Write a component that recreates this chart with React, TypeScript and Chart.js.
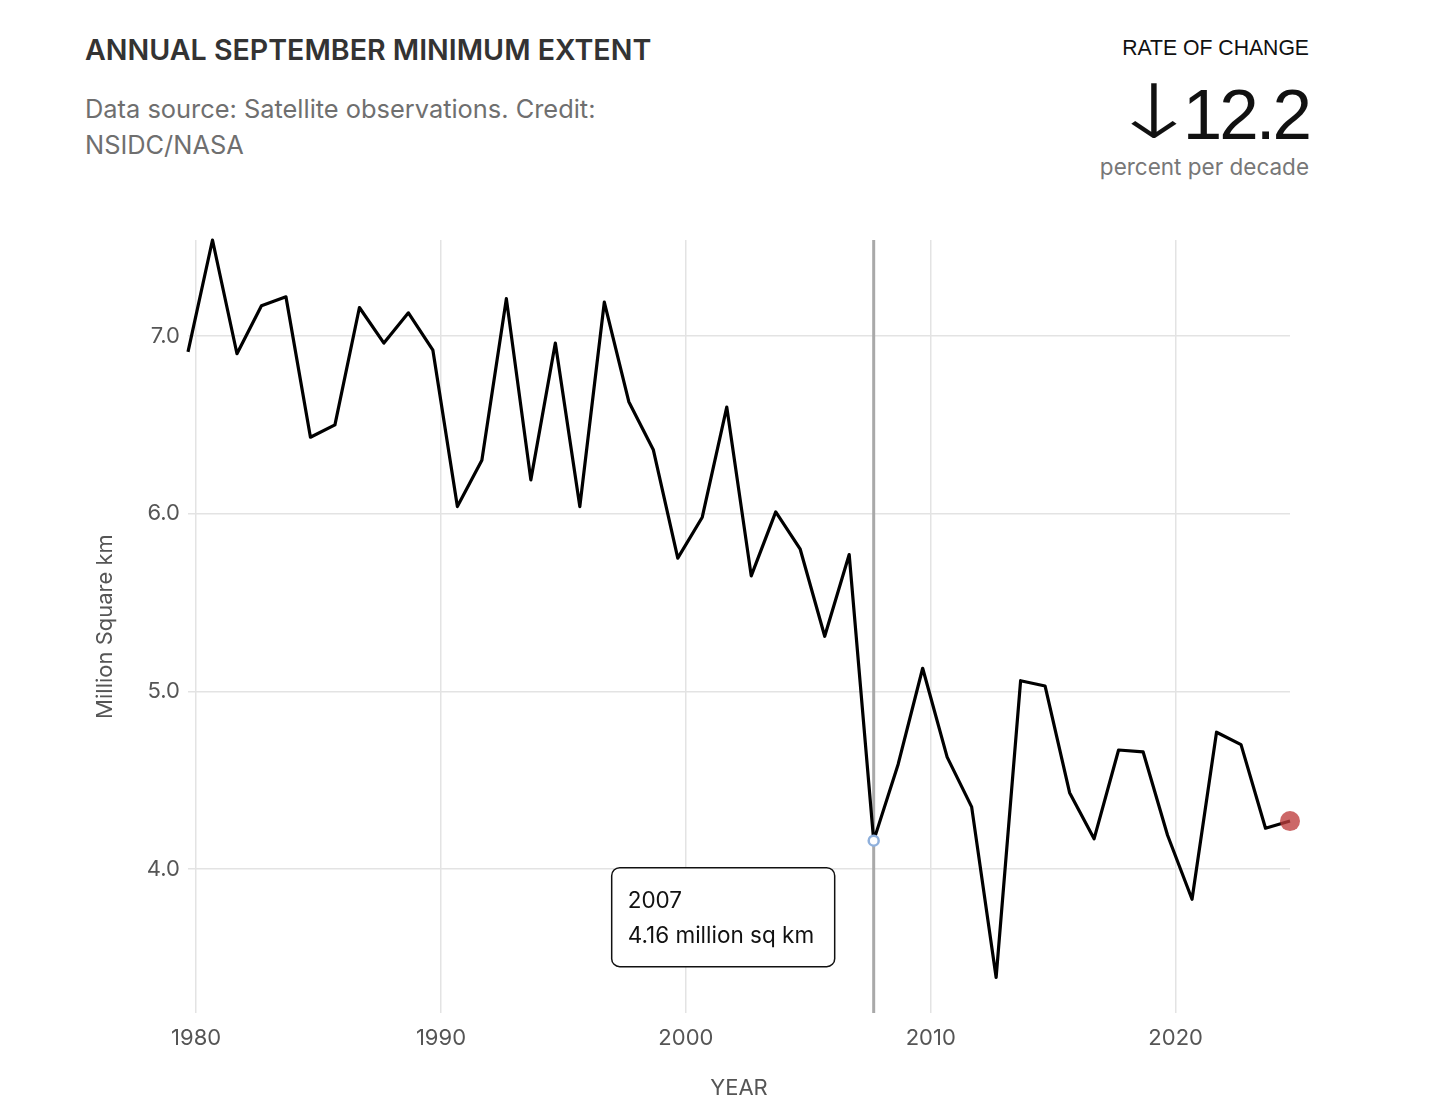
import React, { useEffect, useRef } from "react";
import { Chart, registerables } from "chart.js";

Chart.register(...registerables);

// ---- Data ----
const years: number[] = [
  1979, 1980, 1981, 1982, 1983, 1984, 1985, 1986, 1987, 1988,
  1989, 1990, 1991, 1992, 1993, 1994, 1995, 1996, 1997, 1998,
  1999, 2000, 2001, 2002, 2003, 2004, 2005, 2006, 2007, 2008,
  2009, 2010, 2011, 2012, 2013, 2014, 2015, 2016, 2017, 2018,
  2019, 2020, 2021, 2022, 2023, 2024,
];
const extent: number[] = [
  6.91, 7.54, 6.90, 7.17, 7.22, 6.43, 6.50, 7.16, 6.96, 7.13,
  6.92, 6.04, 6.30, 7.21, 6.19, 6.96, 6.04, 7.19, 6.63, 6.36,
  5.75, 5.98, 6.60, 5.65, 6.01, 5.80, 5.31, 5.77, 4.16, 4.59,
  5.13, 4.63, 4.35, 3.39, 5.06, 5.03, 4.43, 4.17, 4.67, 4.66,
  4.19, 3.83, 4.77, 4.70, 4.23, 4.27,
];
const xTickYears: number[] = [1980, 1990, 2000, 2010, 2020];
const yTickValues: number[] = [4, 5, 6, 7];
const highlightYear = 2007;
const septemberFraction = 0.67; // minimum occurs in September
const yMin = 3.19;

const titleText = "ANNUAL SEPTEMBER MINIMUM EXTENT";
const subtitleLines = ["Data source: Satellite observations. Credit:", "NSIDC/NASA"];
const rateLabel = "RATE OF CHANGE";
const rateValue = "12.2";
const rateUnit = "percent per decade";

const FONT = "Inter, 'Noto Sans', sans-serif";

export default function App() {
  const canvasRef = useRef<HTMLCanvasElement | null>(null);

  useEffect(() => {
    if (!canvasRef.current) return;
    const lastIdx = years.length - 1;
    const hiIdx = years.indexOf(highlightYear);
    const points = years.map((yr, i) => ({ x: yr + septemberFraction, y: extent[i] }));

    const highlightPlugin = {
      id: "highlight",
      beforeDatasetsDraw(chart: any) {
        const { ctx, chartArea, scales } = chart;
        const px = scales.x.getPixelForValue(points[hiIdx].x);
        ctx.save();
        ctx.strokeStyle = "#a9a9a9";
        ctx.lineWidth = 3;
        ctx.beginPath();
        ctx.moveTo(px, chartArea.top);
        ctx.lineTo(px, chartArea.bottom);
        ctx.stroke();
        ctx.restore();
      },
      afterDatasetsDraw(chart: any) {
        const { ctx, scales } = chart;
        const px = scales.x.getPixelForValue(points[hiIdx].x);
        const py = scales.y.getPixelForValue(points[hiIdx].y);
        const w = 223;
        const h = 99;
        const right = px - 39;
        const left = right - w;
        const top = py + 27;
        ctx.save();
        ctx.beginPath();
        (ctx as any).roundRect(left, top, w, h, 8);
        ctx.fillStyle = "#ffffff";
        ctx.fill();
        ctx.strokeStyle = "#111";
        ctx.lineWidth = 1.5;
        ctx.stroke();
        ctx.fillStyle = "#111";
        ctx.font = `22.5px ${FONT}`;
        ctx.textBaseline = "alphabetic";
        ctx.textAlign = "left";
        ctx.fillText(String(highlightYear), left + 16, top + 40);
        ctx.fillText(`${extent[hiIdx].toFixed(2)} million sq km`, left + 16, top + 75);
        ctx.restore();
      },
    };

    const chart = new Chart(canvasRef.current, {
      type: "line",
      data: {
        datasets: [
          {
            data: points,
            borderColor: "#000000",
            borderWidth: 3.2,
            borderJoinStyle: "round",
            borderCapStyle: "butt",
            tension: 0,
            clip: false as any,
            pointRadius: years.map((_, i) => (i === lastIdx ? 10 : i === hiIdx ? 5 : 0)),
            pointBackgroundColor: years.map((_, i) =>
              i === lastIdx ? "rgba(190,60,60,0.78)" : "#ffffff"
            ),
            pointBorderColor: years.map((_, i) =>
              i === lastIdx ? "rgba(0,0,0,0)" : "#8fb0dc"
            ),
            pointBorderWidth: years.map((_, i) => (i === hiIdx ? 2.5 : 0)),
            pointHoverRadius: 0,
          },
        ],
      },
      options: {
        animation: false,
        responsive: true,
        maintainAspectRatio: false,
        events: [],
        layout: { padding: { left: 0, right: 166, top: 40, bottom: 0 } },
        plugins: {
          legend: { display: false },
          tooltip: { enabled: false },
        },
        scales: {
          x: {
            type: "linear",
            min: years[0] + septemberFraction,
            max: years[lastIdx] + septemberFraction,
            afterBuildTicks: (s: any) => {
              s.ticks = xTickYears.map((v) => ({ value: v }));
            },
            afterFit: (s: any) => {
              s.height = 105;
            },
            ticks: {
              autoSkip: false,
              maxRotation: 0,
              padding: 12,
              color: "#555555",
              font: { family: FONT, size: 22 },
              callback: (v: any) => String(v),
            },
            grid: { color: "#e3e3e3", lineWidth: 1.5, drawTicks: false },
            border: { display: false },
            title: {
              display: true,
              text: "YEAR",
              color: "#555555",
              font: { family: FONT, size: 22 },
              padding: { top: 0, bottom: 16 },
            },
          },
          y: {
            min: yMin,
            max: Math.max(...extent),
            afterBuildTicks: (s: any) => {
              s.ticks = yTickValues.map((v) => ({ value: v }));
            },
            afterFit: (s: any) => {
              s.width = 108;
            },
            ticks: {
              padding: 8,
              color: "#555555",
              font: { family: FONT, size: 22 },
              callback: (v: any) => Number(v).toFixed(1),
            },
            grid: { color: "#e3e3e3", lineWidth: 1.5, drawTicks: false },
            border: { display: false },
            title: {
              display: true,
              text: "Million Square km",
              color: "#555555",
              font: { family: FONT, size: 22 },
              padding: { top: 12, bottom: 0 },
            },
          },
        },
      },
      plugins: [highlightPlugin],
    } as any);

    return () => chart.destroy();
  }, []);

  return (
    <div
      style={{
        position: "absolute",
        left: 0,
        top: 0,
        width: 1456,
        height: 1118,
        background: "#ffffff",
        fontFamily: FONT,
        overflow: "hidden",
      }}
    >
      <div
        style={{
          position: "absolute",
          left: 85,
          top: 33,
          fontSize: 28.6,
          lineHeight: "34px",
          fontWeight: 600,
          color: "#333333",
          whiteSpace: "nowrap",
        }}
      >
        {titleText}
      </div>
      <div
        style={{
          position: "absolute",
          left: 85,
          top: 91,
          fontSize: 25.4,
          lineHeight: "36px",
          color: "#6f6f6f",
          whiteSpace: "nowrap",
        }}
      >
        {subtitleLines.map((l, i) => (
          <div key={i}>{l}</div>
        ))}
      </div>
      <div
        style={{
          position: "absolute",
          right: 147,
          top: 36,
          fontFamily: "'Liberation Sans', Arial, sans-serif",
          fontSize: 21.2,
          lineHeight: "24px",
          color: "#111111",
          textAlign: "right",
          whiteSpace: "nowrap",
        }}
      >
        {rateLabel}
      </div>
      <div
        style={{
          position: "absolute",
          right: 147,
          top: 79,
          fontFamily: "'Liberation Sans', Arial, sans-serif",
          fontSize: 71,
          lineHeight: "71px",
          letterSpacing: -3,
          color: "#111111",
          textAlign: "right",
          whiteSpace: "nowrap",
        }}
      >
        <span
          style={{
            display: "inline-block",
            fontFamily: "'DejaVu Sans', sans-serif",
            fontWeight: 200,
            fontSize: 68,
            letterSpacing: 0,
            transform: "scale(1.65, 1.1)",
            transformOrigin: "right bottom",
            marginRight: -18,
          }}
        >
          ↓
        </span>
        {rateValue}
      </div>
      <div
        style={{
          position: "absolute",
          right: 147,
          top: 153,
          fontSize: 22.5,
          lineHeight: "28px",
          color: "#777777",
          textAlign: "right",
          whiteSpace: "nowrap",
        }}
      >
        {rateUnit}
      </div>
      <div style={{ position: "absolute", left: 80, top: 200, width: 1376, height: 918 }}>
        <canvas ref={canvasRef} />
      </div>
    </div>
  );
}
